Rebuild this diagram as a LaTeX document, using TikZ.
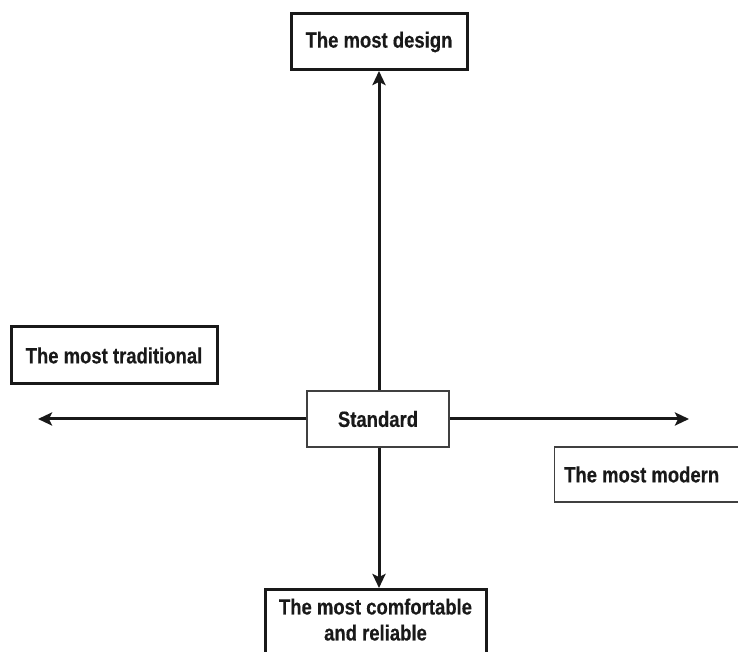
\documentclass[tikz,border=0pt]{standalone}
\usepackage{fontspec}
\setmainfont[FakeStretch=0.84, BoldFeatures={FakeBold=0.3}]{Liberation Sans}
\usetikzlibrary{arrows.meta}
\begin{document}
\begin{tikzpicture}[x=1pt,y=1pt,
  thickbox/.style={draw=black!90, line width=3pt, fill=white, inner sep=0pt, font=\bfseries\fontsize{22}{26}\selectfont, text=black!90, align=center},
  thinbox/.style={draw=black!75, line width=1.4pt, fill=white, inner sep=0pt, font=\bfseries\fontsize{22}{26}\selectfont, text=black!90, align=center},
  arr/.style={draw=black!90, line width=3pt, -{Stealth[length=14pt,width=13pt,inset=3pt]}}]
\useasboundingbox (0,0) rectangle (738,652);
\clip (0,0) rectangle (738,652);
% nodes (y = 652 - pixel y)
\node[thickbox, minimum width=176pt, minimum height=56pt] (design) at (379,610) {The most design};
\node[thickbox, minimum width=206pt, minimum height=57pt] (trad) at (114,296.5) {The most traditional};
\node[thinbox, minimum width=142pt, minimum height=56pt] (std) at (378,233) {Standard};
\node[thinbox, minimum width=200pt, minimum height=55pt, anchor=west] (modern) at (554,177.5) {\hspace*{-26pt}The most modern};
\node[thickbox, minimum width=221pt, minimum height=80pt, anchor=north] (comf) at (375.5,64) {};
\node[font=\bfseries\fontsize{22}{26}\selectfont, text=black!90, align=center, anchor=north] (comftxt) at (375.5,57) {The most comfortable\\and reliable};
\coordinate (lefttip) at (38,233);
\coordinate (righttip) at (689,233);
% connectors
\draw[arr] (std.north -| 379,0) -- (379,581) coordinate (uptip);
\draw[arr] (std.south -| 379,0) -- (comf.north -| 379,0);
\draw[arr] (std.west) -- (lefttip);
\draw[arr] (std.east) -- (righttip);
\end{tikzpicture}
\end{document}
